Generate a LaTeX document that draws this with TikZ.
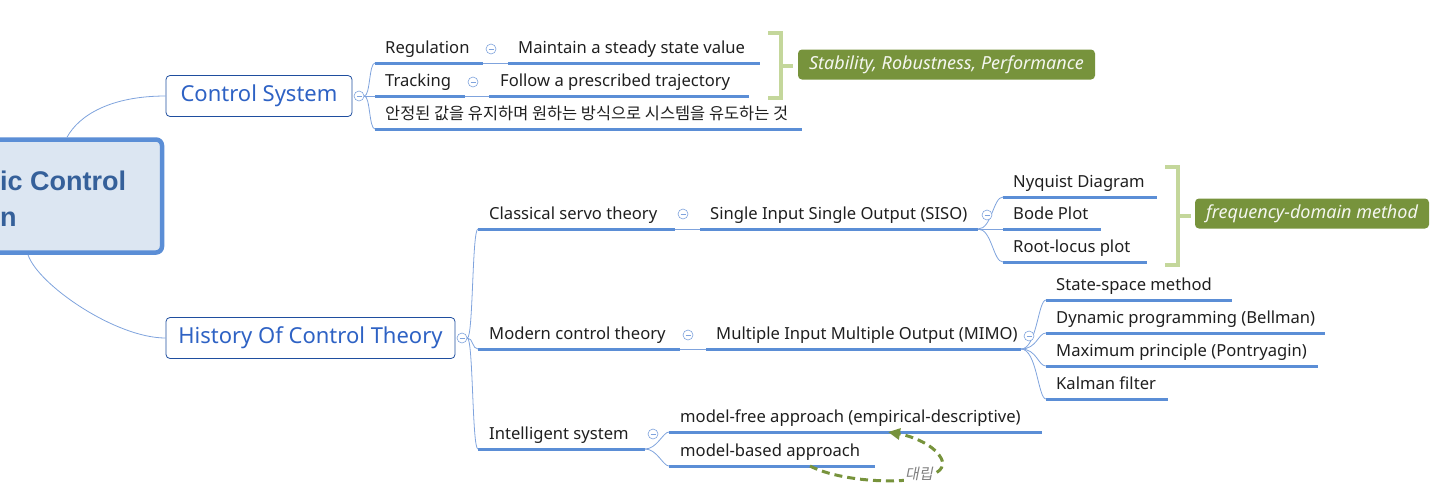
\documentclass[tikz,border=0pt]{standalone}
\usepackage{fontspec}
\setmainfont{Noto Sans}
\newfontfamily\rootfont{Liberation Sans}
\newfontfamily\kofont{Noto Sans CJK KR}
\newfontfamily\kofontit[FakeSlant=0.2]{Noto Sans CJK KR}
\usetikzlibrary{arrows.meta}
\definecolor{topicblue}{HTML}{2E62C4}
\definecolor{topicline}{HTML}{1F4E9F}
\definecolor{linkblue}{HTML}{7FA3DD}
\definecolor{ulblue}{HTML}{5B8ED6}
\definecolor{rootfill}{HTML}{DCE6F2}
\definecolor{roottext}{HTML}{35609A}
\definecolor{olive}{HTML}{77933C}
\definecolor{bracketgreen}{HTML}{C4D79B}

\begin{document}
\begin{tikzpicture}[x=1pt,y=-1pt,
    rootbox/.style={draw=ulblue,line width=4.5pt,fill=rootfill,rounded corners=6pt,minimum width=190pt,minimum height=113pt},
    roottitle/.style={anchor=base west,inner sep=0pt,text=roottext,font=\fontsize{27}{32}\selectfont\rootfont\bfseries},
    topic/.style={draw=topicline,line width=0.8pt,rounded corners=4pt,minimum height=41pt,text=topicblue,font=\fontsize{22}{26}\selectfont},
    sub/.style={anchor=base west,inner sep=0pt,text=black!88,font=\fontsize{16.6}{19}\selectfont},
    fold/.style={circle,draw=linkblue,line width=0.6pt,fill=white,minimum size=10pt,inner sep=0pt,
        path picture={\draw[linkblue,line width=0.6pt] ([xshift=-2.5pt]path picture bounding box.center) -- ([xshift=2.5pt]path picture bounding box.center);}},
    uline/.style={ulblue,line width=3pt},
    branch/.style={linkblue,line width=0.8pt},
    badge/.style={fill=olive,rounded corners=4pt,minimum height=30pt,text=white!92!olive,font=\fontsize{18}{21}\selectfont\itshape},
    bracket/.style={bracketgreen,line width=3.5pt},
    oppose/.style={olive,line width=3pt,dash pattern=on 8pt off 5pt,-{Triangle[length=12pt,width=11pt]}}]
    \useasboundingbox (0,0) rectangle (1445,499);
    \clip (0,0) rectangle (1445,499);

    % central topic, cut by the left edge
    \node[rootbox] (root) at (67,196) {};
    \node[roottitle] (root1) at (0,190) {ic Control};
    \node[roottitle] (root2) at (0,226) {n};

    % main topics
    \node[topic,minimum width=186pt] (cs) at (259,96) {Control System};
    \node[topic,minimum width=289pt] (hist) at (310.5,338) {History Of Control Theory};
    \draw[branch] (root.north) .. controls +(12,-22) and +(-55,0) .. (cs.west);
    \draw[branch] ([xshift=-39pt]root.south) .. controls +(10,30) and +(-50,0) .. (hist.west);
    \node[fold] (cs-f) at (359,96) {};
    \node[fold] (hist-f) at (462,338) {};

    % Control System
    \node[sub] (reg) at (385,53) {Regulation};
    \node[sub] (mtn) at (518,53) {Maintain a steady state value};
    \node[sub] (trk) at (385,86) {Tracking};
    \node[sub] (fol) at (500,86) {Follow a prescribed trajectory};
    \node[sub,font=\fontsize{16.4}{19}\selectfont\kofont] (kor) at (385,119) {안정된 값을 유지하며 원하는 방식으로 시스템을 유도하는 것};
    \draw[uline] (375,63) coordinate (reg-l) -- (483,63) coordinate (reg-r);
    \draw[uline] (508,63) coordinate (mtn-l) -- (760,63);
    \draw[uline] (375,96) coordinate (trk-l) -- (465,96) coordinate (trk-r);
    \draw[uline] (489,96) coordinate (fol-l) -- (749,96);
    \draw[uline] (375,129) coordinate (kor-l) -- (802,129);
    \draw[branch] (cs-f.east) .. controls +(6,0) and +(-6,0) .. (reg-l);
    \draw[branch] (cs-f.east) -- (trk-l);
    \draw[branch] (cs-f.east) .. controls +(6,0) and +(-6,0) .. (kor-l);
    \draw[branch] (reg-r) -- (mtn-l);
    \draw[branch] (trk-r) -- (fol-l);
    \node[fold] (reg-f) at (491,49) {};
    \node[fold] (trk-f) at (473,82) {};

    \node[badge,minimum width=297pt] (stab) at (946.5,64.5) {Stability, Robustness, Performance};
    \draw[bracket] (768,33) -- (781,33) -- (781,98) -- (768,98);
    \draw[bracket] (781,66) -- ([xshift=-5pt]stab.west |- 0,66);

    % History Of Control Theory
    \node[sub] (cls) at (489,219) {Classical servo theory};
    \node[sub] (siso) at (710,219) {Single Input Single Output (SISO)};
    \node[sub] (mod) at (489,339) {Modern control theory};
    \node[sub] (mimo) at (716,339) {Multiple Input Multiple Output (MIMO)};
    \node[sub] (int) at (489,439) {Intelligent system};
    \draw[uline] (478,229) coordinate (cls-l) -- (675,229) coordinate (cls-r);
    \draw[uline] (700,229) coordinate (siso-l) -- (978,229) coordinate (siso-r);
    \draw[uline] (478,349) coordinate (mod-l) -- (680,349) coordinate (mod-r);
    \draw[uline] (706,349) coordinate (mimo-l) -- (1021,349) coordinate (mimo-r);
    \draw[uline] (478,449) coordinate (int-l) -- (645,449) coordinate (int-r);
    \draw[branch] (hist-f.east) .. controls +(6,0) and +(-6,0) .. (cls-l);
    \draw[branch] (hist-f.east) .. controls +(6,0) and +(-6,0) .. (mod-l);
    \draw[branch] (hist-f.east) .. controls +(6,0) and +(-6,0) .. (int-l);
    \draw[branch] (cls-r) -- (siso-l);
    \draw[branch] (mod-r) -- (mimo-l);
    \node[fold] (cls-f) at (683,214) {};
    \node[fold] (mod-f) at (688,335) {};

    % SISO
    \node[sub] (nyq) at (1013,187) {Nyquist Diagram};
    \node[sub] (bode) at (1013,219) {Bode Plot};
    \node[sub] (rl) at (1013,252) {Root-locus plot};
    \draw[uline] (1003,197) coordinate (nyq-l) -- (1157,197);
    \draw[uline] (1003,229) coordinate (bode-l) -- (1101,229);
    \draw[uline] (1003,262) coordinate (rl-l) -- (1147,262);
    \draw[branch] (siso-r) .. controls +(14,0) and +(-10,0) .. (nyq-l);
    \draw[branch] (siso-r) -- (bode-l);
    \draw[branch] (siso-r) .. controls +(14,0) and +(-10,0) .. (rl-l);
    \node[fold] (siso-f) at (987,215) {};

    \node[badge,minimum width=234pt] (freq) at (1312,213.5) {frequency-domain method};
    \draw[bracket] (1165,167) -- (1178,167) -- (1178,265) -- (1165,265);
    \draw[bracket] (1178,216) -- ([xshift=-4pt]freq.west |- 0,216);

    % MIMO
    \node[sub] (ss) at (1056,290) {State-space method};
    \node[sub] (dp) at (1056,323) {Dynamic programming (Bellman)};
    \node[sub] (mp) at (1056,356) {Maximum principle (Pontryagin)};
    \node[sub] (kal) at (1056,389) {Kalman filter};
    \draw[uline] (1046,300) coordinate (ss-l) -- (1232,300);
    \draw[uline] (1046,333) coordinate (dp-l) -- (1325,333);
    \draw[uline] (1046,366) coordinate (mp-l) -- (1318,366);
    \draw[uline] (1046,399) coordinate (kal-l) -- (1168,399);
    \draw[branch] (mimo-r) .. controls +(16,0) and +(-8,0) .. (ss-l);
    \draw[branch] (mimo-r) .. controls +(16,0) and +(-8,0) .. (dp-l);
    \draw[branch] (mimo-r) .. controls +(16,0) and +(-8,0) .. (mp-l);
    \draw[branch] (mimo-r) .. controls +(16,0) and +(-8,0) .. (kal-l);
    \node[fold] (mimo-f) at (1029,336) {};

    % Intelligent system
    \node[sub] (mf) at (680,422) {model-free approach (empirical-descriptive)};
    \node[sub] (mb) at (680,456) {model-based approach};
    \draw[uline] (669,432) coordinate (mf-l) -- (888,432) coordinate (mf-a) -- (1042,432);
    \draw[uline] (669,466) coordinate (mb-l) -- (810,466) coordinate (mb-a) -- (875,466);
    \draw[branch] (int-r) .. controls +(12,0) and +(-6,0) .. (mf-l);
    \draw[branch] (int-r) .. controls +(12,0) and +(-6,0) .. (mb-l);
    \node[fold] (int-f) at (653,434) {};

    \draw[oppose] (mb-a) .. controls (850,487) and (957,487) .. (941,458)
        .. controls (932,442) and (906,435) .. (mf-a);
    \node[fill=white,inner sep=1pt,text=black!50,font=\fontsize{15}{17}\selectfont\kofontit] (opp) at (919,474) {대립};
\end{tikzpicture}
\end{document}
